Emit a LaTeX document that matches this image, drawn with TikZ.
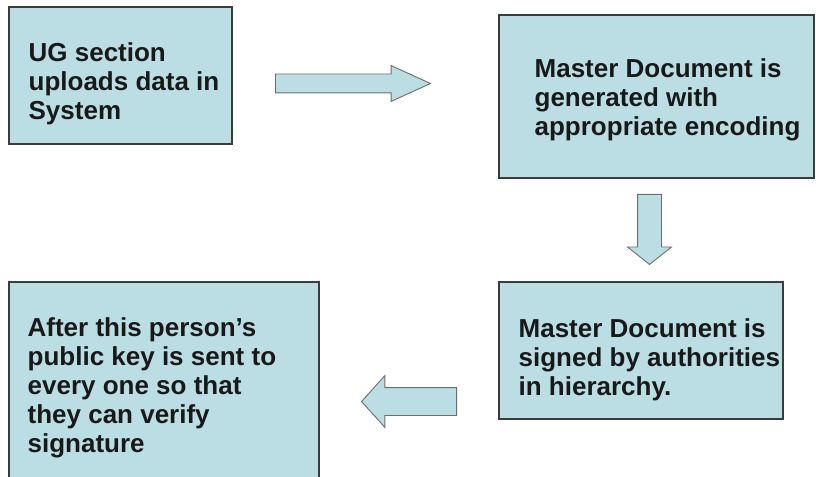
\documentclass[tikz,border=0pt]{standalone}
\usepackage{fontspec}
\setmainfont{Liberation Sans}
\usetikzlibrary{shapes.arrows}
\definecolor{stepFill}{RGB}{186,222,228}
\definecolor{stepLine}{RGB}{60,60,60}
\definecolor{arrowLine}{RGB}{110,110,110}
\begin{document}
\begin{tikzpicture}[x=1bp,y=-1bp,
    stepBox/.style={rectangle,draw=stepLine,line width=1.1bp,fill=stepFill,inner sep=0pt},
    stepText/.style={align=left,inner sep=0pt,font=\fontsize{26bp}{29bp}\selectfont\bfseries,text=black!90,anchor=base west},
    blockArrow/.style={single arrow,draw=arrowLine,line width=0.9bp,fill=stepFill,anchor=tail,minimum width=0pt},
]
\useasboundingbox (0,0) rectangle (816,477);
\node[stepBox,minimum width=223bp,minimum height=137bp] (ugBox) at (120.5,75.5) {};
\node[stepBox,minimum width=315bp,minimum height=163bp] (masterBox) at (656.5,96.5) {};
\node[stepBox,minimum width=284bp,minimum height=137bp] (signBox) at (641,350.5) {};
\node[stepBox,minimum width=310bp,minimum height=218bp] (keyBox) at (164,391) {};
\node[stepText] (ugText) at ([shift={(20,113)}]ugBox.north west) {UG section\\uploads data in\\System};
\node[stepText] (masterText) at ([shift={(36,121)}]masterBox.north west) {Master Document is\\generated with\\appropriate encoding};
\node[stepText] (signText) at ([shift={(20,114)}]signBox.north west) {Master Document is\\signed by authorities\\in hierarchy.};
\node[stepText] (keyText) at ([shift={(19,171)}]keyBox.north west) {After this person’s\\public key is sent to\\every one so that\\they can verify\\signature};
\node[blockArrow,minimum height=155bp,inner sep=9bp,single arrow head extend=8.5bp,single arrow tip angle=49] (ugArrow) at (275,83.5) {};
\node[blockArrow,shape border rotate=270,minimum height=70bp,inner sep=11.5bp,single arrow head extend=10bp,single arrow tip angle=103] (masterArrow) at (649.5,194) {};
\node[blockArrow,shape border rotate=180,minimum height=95bp,inner sep=13.5bp,single arrow head extend=12bp,single arrow tip angle=96] (signArrow) at (457,401.5) {};
\end{tikzpicture}
\end{document}
